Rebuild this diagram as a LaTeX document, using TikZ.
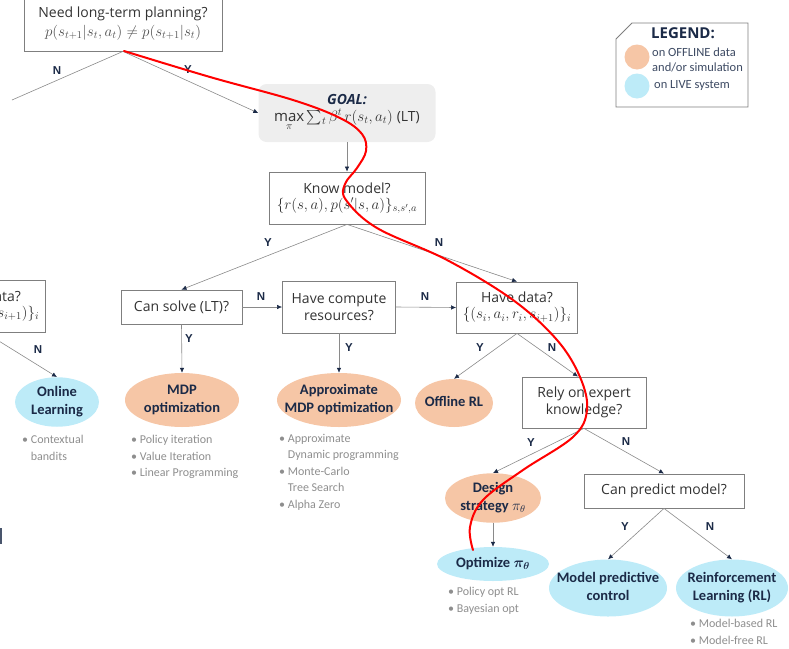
\RequirePackage{fix-cm}
\documentclass[tikz,border=0pt]{standalone}
\usepackage{amsmath}
\usepackage{fontspec}
\setmainfont{Open Sans}
\newfontfamily\elfont{Carlito}
\newfontfamily\lblfont{Liberation Sans}
\usetikzlibrary{shapes.geometric,arrows.meta}
\definecolor{boxtext}{HTML}{333333}
\definecolor{boxline}{HTML}{7F7F7F}
\definecolor{offl}{HTML}{F6C6A6}
\definecolor{livec}{HTML}{BDEBF8}
\definecolor{eltext}{HTML}{1B2A47}
\definecolor{bultext}{HTML}{8E8E8E}
\definecolor{conn}{HTML}{8A8A8A}
\definecolor{goalfill}{HTML}{EEEEEE}
\newcommand{\mfs}{\fontsize{15}{17}\selectfont}
\newcommand{\elt}[1]{\makebox[0pt][c]{\begin{tabular}{@{}c@{}}#1\end{tabular}}}
\tikzset{
  qbox/.style={draw=boxline, line width=0.8pt, align=center, inner sep=0pt,
    text=boxtext, font=\fontsize{14}{17}\selectfont},
  oval/.style={ellipse, inner sep=0pt, text=eltext,
    font=\elfont\bfseries\fontsize{14.5}{17.5}\selectfont},
  offline/.style={oval, fill=offl},
  live/.style={oval, fill=livec},
  bul/.style={anchor=north west, inner sep=0pt, align=left, text=bultext,
    font=\elfont\fontsize{12}{16.5}\selectfont},
  yn/.style={text=eltext, font=\lblfont\bfseries\fontsize{11.5}{13}\selectfont, inner sep=0pt},
  conline/.style={draw=conn, line width=0.6pt},
  arr/.style={conline, -{Latex[length=5pt,width=4.5pt,color=eltext]}},
  redpath/.style={draw=red, line width=2pt, line cap=round}
}
\begin{document}
\begin{tikzpicture}[x=1pt,y=-1pt]
\useasboundingbox (0,0) rectangle (789,648);

% question boxes
\node[qbox, minimum width=198pt, minimum height=55pt] (top) at (123,23.5)
  {Need long-term planning?\\[2pt] {\mfs\color{boxtext!85}$p(s_{t+1}|s_t,a_t)\neq p(s_{t+1}|s_t)$}};
\node[fill=goalfill, rounded corners=8pt, minimum width=177pt, minimum height=58pt,
  inner sep=0pt, align=center, text=eltext] (goal) at (347,113)
  {{\bfseries\itshape\fontsize{14}{17}\selectfont GOAL:}\\[3pt]
   {\mfs\color{boxtext}$\max\limits_{\pi}\sum\nolimits_t \beta^t\, r(s_t,a_t)$ \fontsize{14}{17}\selectfont(LT)}};
\node[qbox, minimum width=156pt, minimum height=52pt] (know) at (347,198)
  {Know model?\\[-1pt] {\mfs$\{r(s,a),p(s'|s,a)\}_{s,s',a}$}};
\node[qbox, minimum width=121pt, minimum height=34pt] (cs) at (181.5,307) {Can solve (LT)?};
\node[qbox, minimum width=113pt, minimum height=52pt] (hc) at (339,307) {Have compute\\ resources?};
\node[qbox, minimum width=121pt, minimum height=51pt] (hd) at (517,307.5)
  {Have data?\\[-1pt] {\mfs$\{(s_i,a_i,r_i,s_{i+1})\}_i$}};
\node[qbox, minimum width=121pt, minimum height=52pt] (hd0) at (-15,306)
  {Have data?\\[-1pt] {\mfs$\{(s_i,a_i,r_i,s_{i+1})\}_i$}};
\node[qbox, minimum width=124pt, minimum height=51pt] (rely) at (584,402.5)
  {Rely on expert\\ knowledge?};
\node[qbox, minimum width=160pt, minimum height=34pt] (cp) at (664,491) {Can predict model?};

% outcome ellipses
\node[live, minimum width=84pt, minimum height=49pt] (online) at (57,402) {\elt{Online\\Learning}};
\node[offline, minimum width=114pt, minimum height=54pt] (mdp) at (182,400) {\elt{MDP\\optimization}};
\node[offline, minimum width=124pt, minimum height=54pt] (amdp) at (339,400) {\elt{Approximate\\MDP optimization}};
\node[offline, minimum width=78pt, minimum height=48pt] (offrl) at (454,403) {\elt{Offline RL}};
\node[offline, minimum width=96pt, minimum height=46pt] (design) at (493,498) {\elt{Design\\strategy $\pi_\theta$}};
\node[live, minimum width=112pt, minimum height=34pt] (optim) at (493,564) {\elt{Optimize $\boldsymbol{\pi_\theta}$}};
\node[live, minimum width=118pt, minimum height=57pt] (mpc) at (608,588) {\elt{Model predictive\\control}};
\node[live, minimum width=112pt, minimum height=57pt] (rl) at (732,588) {\elt{Reinforcement\\Learning (RL)}};

% bullet lists
\node[bul] (b1) at (22,435) {•~Contextual\\\hphantom{•~}bandits};
\node[bul] (b2) at (131,435) {•~Policy iteration\\•~Value Iteration\\•~Linear Programming};
\node[bul] (b3) at (279,434) {•~Approximate\\\hphantom{•~}Dynamic programming\\•~Monte-Carlo\\\hphantom{•~}Tree Search\\•~Alpha Zero};
\node[bul] (b4) at (448,587) {•~Policy opt RL\\•~Bayesian opt};
\node[bul] (b5) at (690,619) {•~Model-based RL\\•~Model-free RL};

% legend
\draw[draw=boxline, line width=0.8pt, fill=white] (616,39) -- (632,23) -- (748,23) -- (748,107) -- (616,107) -- cycle;
\node[text=eltext, font=\bfseries\fontsize{15}{16}\selectfont, inner sep=0pt] (legt) at (683,33) {LEGEND:};
\node[circle, fill=offl, minimum size=25pt, inner sep=0pt] (lego) at (637,57) {};
\node[circle, fill=livec, minimum size=25pt, inner sep=0pt] (legl) at (637,86) {};
\node[anchor=west, inner sep=0pt, align=left, text=eltext!85, font=\elfont\fontsize{12.5}{15}\selectfont] (legot) at (652,59.5) {on OFFLINE data\\and/or simulation};
\node[anchor=west, inner sep=0pt, text=eltext!85, font=\elfont\fontsize{12.5}{15}\selectfont] (leglt) at (654,85) {on LIVE system};

% connectors
\coordinate (nend) at (12,100);
\draw[conline] (top.south) -- (nend);
\draw[arr] (top.south) -- (goal.west);
\draw[arr] (goal.south) -- (know.north);
\draw[arr] (know.south) -- (cs.north);
\draw[arr] (know.south) -- (hd.north);
\draw[arr] (cs.east) -- (hc.west);
\draw[arr] (hc.east) -- (hd.west);
\draw[arr] (cs.south) -- (mdp.north);
\draw[arr] (hc.south) -- (amdp.north);
\draw[arr] (hd0.south) -- (online.north);
\draw[arr] (hd.south) -- (offrl.north);
\draw[arr] (hd.south) -- ([xshift=-6pt]rely.north);
\draw[arr] (rely.south) -- (design.north);
\draw[arr] (rely.south) -- (cp.north);
\draw[arr] (design.south) -- (optim.north);
\draw[arr] (cp.south) -- (mpc.north);
\draw[arr] (cp.south) -- (rl.north);

% Y/N labels
\node[yn] (l1) at (57,71) {N};
\node[yn] (l2) at (188,70) {Y};
\node[yn] (l3) at (268,243) {Y};
\node[yn] (l4) at (439,243) {N};
\node[yn] (l5) at (261,297) {N};
\node[yn] (l6) at (425,297) {N};
\node[yn] (l7) at (38,350) {N};
\node[yn] (l8) at (189,339) {Y};
\node[yn] (l9) at (349,348) {Y};
\node[yn] (l10) at (480,348) {Y};
\node[yn] (l11) at (552,348) {N};
\node[yn] (l12) at (531,443) {Y};
\node[yn] (l13) at (626,442) {N};
\node[yn] (l14) at (625,527) {Y};
\node[yn] (l15) at (710,527) {N};

% small mark at left edge
\fill[eltext!80] (0,528) rectangle (2,544);

% red path
\draw[redpath] plot[smooth, tension=0.6] coordinates {(124,51) (210,77) (293,100) (340,118) (362,134) (366,151) (357,168) (345,184) (346,200) (377,228) (447,260) (513,300) (557,340) (580,377) (587,410) (573,437) (523,470) (483,500) (470,527) (473,550)};
\end{tikzpicture}
\end{document}
